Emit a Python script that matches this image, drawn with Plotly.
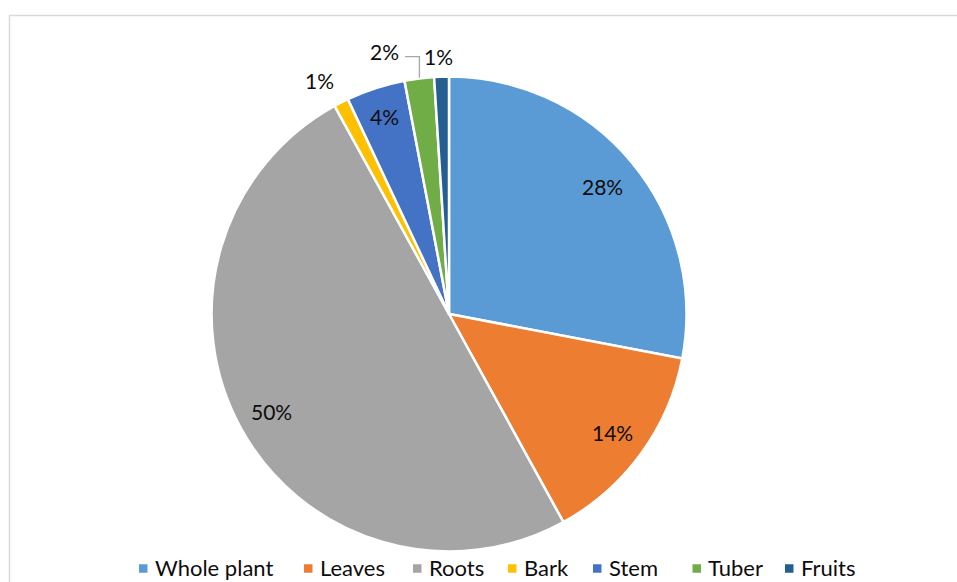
import math
import plotly.graph_objects as go

# Plant parts used (share of reports, %)
parts = ["Whole plant", "Leaves", "Roots", "Bark", "Stem", "Tuber", "Fruits"]
shares = [28, 14, 50, 1, 4, 2, 1]
colors = ["#5B9BD5", "#ED7D31", "#A5A5A5", "#FFC000", "#4472C4", "#70AD47", "#255E91"]

# Label placement (style): radius as fraction of pie radius, angular nudge in degrees
label_radius = [0.845, 0.855, 0.86, 1.13, 0.88, 1.145, 1.09]
label_nudge = [0, 0, 0, -2.0, 0, -6.7, -0.5]
leader_for = ["Tuber"]

# Legend layout (style): left edge of each legend swatch, in pixels
legend_x = [139, 304, 413, 508, 593, 692.5, 785]
LEGEND_Y = 568.5
SWATCH = 8.5

W, H = 957, 582
CX, CY, R = 449, 314, 236  # pie centre and radius in pixels
R_DOM = R + 1.5            # domain half-size (plotly draws the disc slightly inside it)

FONT = "Lato, 'Open Sans', sans-serif"
TEXT_COLOR = "#0d0d0d"


def px_to_paper(x, y):
    return x / W, 1 - y / H


fig = go.Figure()
fig.add_trace(go.Pie(
    labels=parts,
    values=shares,
    sort=False,
    direction="clockwise",
    rotation=0,
    marker=dict(colors=colors, line=dict(color="white", width=2.5)),
    textinfo="none",
    hoverinfo="label+percent",
    domain=dict(x=[(CX - R_DOM) / W, (CX + R_DOM) / W],
                y=[(H - CY - R_DOM) / H, (H - CY + R_DOM) / H]),
    showlegend=False,
))

total = sum(shares)
annotations = []
shapes = []
cum = 0
for i, (name, v) in enumerate(zip(parts, shares)):
    mid = (cum + v / 2) / total * 360
    cum += v
    ang = math.radians(mid + label_nudge[i])
    lx = CX + label_radius[i] * R * math.sin(ang)
    ly = CY - label_radius[i] * R * math.cos(ang)
    pct = round(v / total * 100)
    ax, ay = px_to_paper(lx, ly)
    annotations.append(dict(
        x=ax, y=ay, xref="paper", yref="paper", text=f"{pct}%",
        showarrow=False, xanchor="center", yanchor="middle",
        font=dict(family=FONT, size=21, color=TEXT_COLOR),
    ))
    if name in leader_for:
        m = math.radians(mid)
        ex = CX + R * math.sin(m)
        ey = CY - R * math.cos(m) - 2
        sy = ly + 5
        sx = lx + 21
        pts = [px_to_paper(sx, sy), px_to_paper(ex, sy), px_to_paper(ex, ey)]
        path = "M {} {} L {} {} L {} {}".format(*[c for p in pts for c in p])
        shapes.append(dict(type="path", xref="paper", yref="paper", path=path,
                           line=dict(color="#A6A6A6", width=1.3)))

# legend: colour swatch + name for each part
for name, col, x in zip(parts, colors, legend_x):
    sx0, sy0 = px_to_paper(x, LEGEND_Y - SWATCH / 2)
    sx1, sy1 = px_to_paper(x + SWATCH, LEGEND_Y + SWATCH / 2)
    shapes.append(dict(type="rect", xref="paper", yref="paper",
                       x0=sx0, x1=sx1, y0=sy1, y1=sy0,
                       fillcolor=col, line=dict(width=0)))
    tx, ty = px_to_paper(x + SWATCH + 6, LEGEND_Y - 1)
    annotations.append(dict(
        x=tx, y=ty, xref="paper", yref="paper", text=name,
        showarrow=False, xanchor="left", yanchor="middle", borderpad=0,
        font=dict(family=FONT, size=22, color=TEXT_COLOR),
    ))

# chart area frame
x0, y0 = px_to_paper(9.5, 15.5)
shapes.append(dict(type="rect", xref="paper", yref="paper", x0=x0, y0=-0.05, x1=1.05, y1=y0,
                   line=dict(color="#D9D9D9", width=1.5), layer="below"))

fig.update_layout(
    width=W, height=H,
    margin=dict(l=0, r=0, t=0, b=0),
    paper_bgcolor="white",
    plot_bgcolor="white",
    annotations=annotations,
    shapes=shapes,
    showlegend=False,
)

fig.write_html("out.html")
